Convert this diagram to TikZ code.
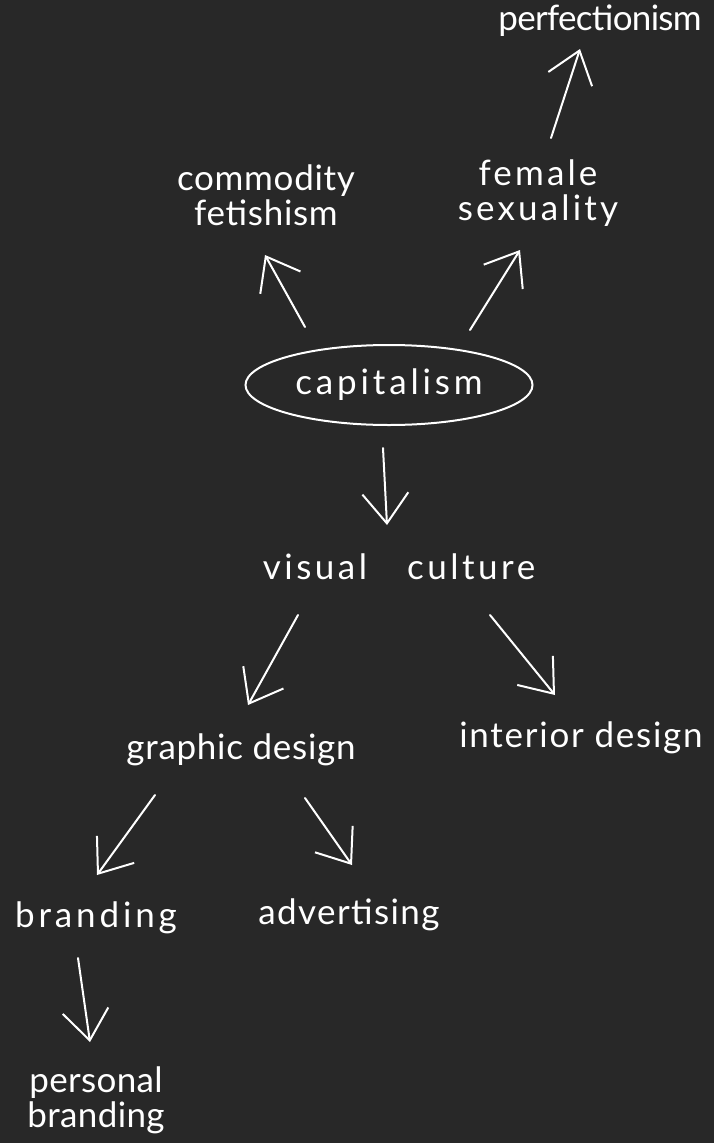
\documentclass[tikz,border=0pt]{standalone}
\usepackage{fontspec}
\setmainfont{Lato}
\usetikzlibrary{shapes.geometric,arrows.meta}
\definecolor{bg}{HTML}{282828}
\begin{document}
\begin{tikzpicture}[x=1pt,y=-1pt,
  lbl/.style={text=white,font=\fontsize{35}{35}\selectfont\addfontfeatures{LetterSpace=#1},align=center,inner sep=2pt},
  lbl/.default=2,
  arr/.style={draw=white,line width=2pt,line cap=round,-{Straight Barb[length=30pt,width=46pt,line width=2pt]}}]
\fill[bg] (0,0) rectangle (714,1143);
\useasboundingbox (0,0) rectangle (714,1143);
\node[lbl=-2] (perf) at (600,21) {perfectionism};
\node[lbl=2] (comm) at (266,195) {commodity\\fetishism};
\node[lbl=9] (fem) at (538,193) {female\\sexuality};
\node[lbl=11,draw=white,line width=2pt,ellipse,minimum width=287pt,minimum height=80pt] (cap) at (389,385) {capitalism};
\node[lbl=10] (vis) at (399,567) {visual\hspace{40pt}culture};
\node[lbl=2] (gd) at (241,750) {graphic design};
\node[lbl=5] (int) at (581,738) {interior design};
\node[lbl=11] (brand) at (96,918) {branding};
\node[lbl=4] (adv) at (349,915) {advertising};
\node[lbl=1] (pers) at (96,1100) {personal\\branding};
\draw[arr] ([shift={(-84,-58)}]cap.center) -- ([shift={(-1,60)}]comm.center);
\draw[arr] ([shift={(81,-55)}]cap.center) -- ([shift={(-18,57)}]fem.center);
\draw[arr] ([shift={(13,-55)}]fem.center) -- ([shift={(-20,28)}]perf.center);
\draw[arr] ([shift={(-6,63)}]cap.center) -- ([shift={(-12,-42)}]vis.center);
\draw[arr] ([shift={(-101,48)}]vis.center) -- ([shift={(7,-45)}]gd.center);
\draw[arr] ([shift={(91,48)}]vis.center) -- ([shift={(-26,-43)}]int.center);
\draw[arr] ([shift={(-86,45)}]gd.center) -- ([shift={(1,-43)}]brand.center);
\draw[arr] ([shift={(64,48)}]gd.center) -- ([shift={(3,-50)}]adv.center);
\draw[arr] ([shift={(-18,40)}]brand.center) -- ([shift={(-6,-58)}]pers.center);
\end{tikzpicture}
\end{document}
